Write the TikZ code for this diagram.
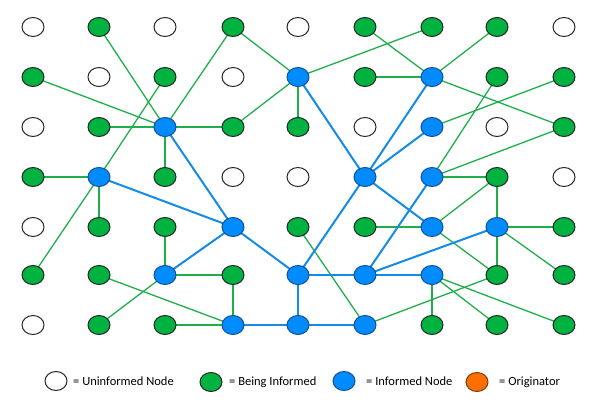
\documentclass[tikz,border=0pt]{standalone}
\usetikzlibrary{shapes.geometric}
\usepackage{fontspec}
\setmainfont{Carlito}
\begin{document}
\begin{tikzpicture}[x=1pt,y=-1pt,
  nd/.style={ellipse,minimum width=22pt,minimum height=19pt,inner sep=0pt,draw=black!85,line width=1pt},
  W/.style={nd,fill=white},G/.style={nd,fill={rgb,255:red,0;green,178;blue,64}},
  B/.style={nd,fill={rgb,255:red,0;green,140;blue,255},draw={rgb,255:red,20;green,80;blue,150}},
  O/.style={nd,fill={rgb,255:red,255;green,110;blue,0},draw={rgb,255:red,120;green,60;blue,20}},
  ge/.style={draw={rgb,255:red,30;green,175;blue,75},line width=1.3pt},
  be/.style={draw={rgb,255:red,20;green,140;blue,230},line width=2pt},
  lab/.style={font=\fontsize{12.5}{14}\selectfont,anchor=west,inner sep=0pt}]
\useasboundingbox (0,0) rectangle (602,406);
\def\types{{{"W","G","W","G","W","G","G","G","W"},{"G","W","G","W","B","G","B","G","G"},{"W","G","B","G","G","W","B","W","G"},{"G","B","G","W","W","B","B","G","W"},{"W","G","G","B","G","G","B","B","G"},{"G","G","B","G","B","B","B","G","G"},{"W","G","G","B","B","B","G","G","G"}}}
\foreach \r/\y in {0/27,1/77,2/127,3/177,4/227,5/275,6/325}{
  \foreach \c/\x in {0/33,1/99,2/165,3/233,4/298,5/365,6/432,7/497,8/564}{
    \coordinate (p\r\c) at (\x,\y);
  }}
\foreach \a/\b in {01/22,10/22,12/31,03/22,21/22,23/22,32/22,03/14,23/14,14/24,14/06,05/16,15/16,16/07,16/28,26/18,17/36,36/28,36/37,30/31,31/41,31/50,42/52,52/53,52/61,51/63,62/63,53/63,37/46,45/46,37/47,47/48,47/57,47/58,46/57,44/65,65/57,56/66,56/67,56/68}
  \path[ge] (p\a) -- (p\b);
\foreach \a/\b in {22/43,31/43,14/35,43/52,43/54,35/16,35/26,35/46,35/54,54/55,55/56,55/36,55/47,54/64,63/64,64/65}
  \path[be] (p\a) -- (p\b);
\foreach \r/\y in {0/27,1/77,2/127,3/177,4/227,5/275,6/325}{
  \foreach \c/\x in {0/33,1/99,2/165,3/233,4/298,5/365,6/432,7/497,8/564}{
    \pgfmathsetmacro\t{\types[\r][\c]}
    \node[\t] (n\r\c) at (\x,\y) {};
  }}
\node[W] (lw) at (56,381) {};
\node[lab] (tw) at (73,381) {= Uninformed Node};
\node[G] (lg) at (211,382) {};
\node[lab] (tg) at (229,382) {= Being Informed};
\node[B] (lb) at (344,381) {};
\node[lab] (tb) at (366,381) {= Informed Node};
\node[O] (lo) at (477,382) {};
\node[lab] (to) at (499,382) {= Originator};
\end{tikzpicture}
\end{document}
